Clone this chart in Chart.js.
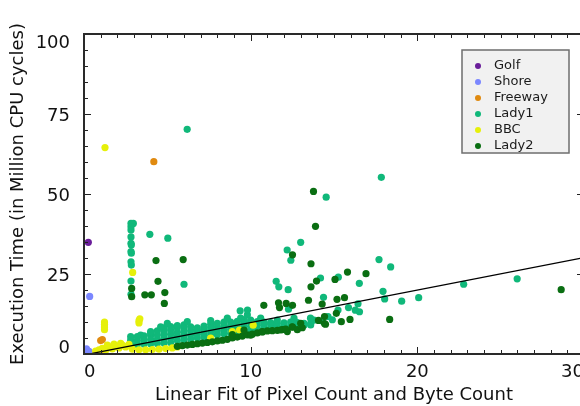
<!DOCTYPE html>
<html>
<head>
<meta charset="utf-8">
<script src="https://cdn.jsdelivr.net/npm/chart.js@4/dist/chart.umd.min.js"></script>
<style>
  html, body { margin: 0; padding: 0; background: #fff; overflow: hidden; }
  #wrap { width: 580px; height: 406px; overflow: hidden; }
</style>
</head>
<body>
<div id="wrap"><canvas id="chart" width="600" height="406"></canvas></div>
<script>
/* ===== data ===== */
const seriesNames = ['Golf', 'Shore', 'Freeway', 'Lady1', 'BBC', 'Lady2'];
const seriesColors = ['#6a1e9a', '#7b87ff', '#e08a10', '#10b87a', '#e6f00a', '#0a6e12'];

const golf = [[0.26, 34.9], [0.05, 0.4], [0.15, 0.9], [0.3, 0.2]];

const shore = [[0.34, 18.0], [0.15, 1.6], [0.3, 0.8], [0.1, 0.3]];

const freeway = [[1.0, 4.2], [1.1, 4.5], [1.0, 0.9], [1.2, 0.6], [4.19, 60.1]];

const lady1 = [
    // dense band
    [2.8, 3.0], [2.8, 4.3], [2.8, 5.4],
    [3.2, 3.0], [3.2, 4.2], [3.2, 5.4],
    [3.6, 3.1], [3.6, 4.4], [3.6, 5.7],
    [4.0, 3.2], [4.0, 4.5], [4.0, 5.8], [4.0, 6.6],
    [4.4, 3.3], [4.4, 4.6], [4.4, 5.9], [4.4, 7.2],
    [4.8, 3.4], [4.8, 4.7], [4.8, 6.0], [4.8, 7.3], [4.8, 8.2],
    [5.2, 3.6], [5.2, 4.9], [5.2, 6.2], [5.2, 7.5], [5.2, 8.6],
    [5.6, 4.2], [5.6, 5.5], [5.6, 6.8], [5.6, 8.1], [5.6, 8.9],
    [6.0, 4.5], [6.0, 5.8], [6.0, 7.1], [6.0, 8.4], [6.0, 9.1],
    [6.4, 4.7], [6.4, 6.0], [6.4, 7.3], [6.4, 8.5],
    [6.8, 5.0], [6.8, 6.2], [6.8, 7.4], [6.8, 8.2],
    [7.2, 5.3], [7.2, 6.5], [7.2, 7.7], [7.2, 8.7],
    [7.6, 5.8], [7.6, 7.0], [7.6, 8.2], [7.6, 9.3],
    [8.0, 6.0], [8.0, 7.2], [8.0, 8.4], [8.0, 9.6],
    [8.4, 6.3], [8.4, 7.5], [8.4, 8.7], [8.4, 10.0],
    [8.8, 6.5], [8.8, 7.7], [8.8, 8.9], [8.8, 10.0],
    [9.2, 6.8], [9.2, 8.0], [9.2, 9.2], [9.2, 10.2],
    [9.6, 7.2], [9.6, 8.4], [9.6, 9.6], [9.6, 10.6],
    [10.0, 7.5], [10.0, 8.7], [10.0, 9.9], [10.0, 10.6],
    [10.4, 7.8], [10.4, 9.0], [10.4, 10.1],
    [10.8, 8.0], [10.8, 9.2], [10.8, 10.0],
    [11.2, 8.2], [11.2, 9.3], [11.2, 9.8],
    [11.6, 8.4], [11.6, 9.5], [12.0, 8.6], [12.0, 9.7],
    [12.4, 8.8], [12.4, 10.0], [12.8, 8.9], [12.8, 9.8],
    [13.2, 9.0], [13.2, 9.6], [13.6, 9.1], [13.6, 9.5],
    // bumps on top of the band
    [3.4, 5.9], [4.0, 7.0], [4.6, 8.5], [5.0, 9.6], [6.2, 10.1], [7.6, 10.4],
    [8.6, 11.2], [9.4, 11.2], [9.8, 12.2], [10.6, 11.2], [11.6, 10.6],
    [12.6, 11.2], [13.8, 10.6],
    // column near x = 2.9
    [2.82, 40.8], [2.96, 40.8], [2.82, 39.8], [2.82, 38.75], [2.82, 36.6],
    [2.82, 34.6], [2.84, 34.1], [2.82, 32.0], [2.84, 31.5], [2.82, 28.8],
    [2.84, 27.8], [2.82, 22.8], [2.82, 18.65],
    // scattered
    [6.19, 70.2], [3.95, 37.4], [5.03, 36.2], [6.0, 21.8],
    [17.84, 55.2], [14.53, 49.0], [13.0, 34.9], [12.19, 32.5], [12.41, 29.3],
    [17.7, 29.5], [18.4, 27.2], [15.26, 24.0], [14.19, 23.75], [16.52, 22.1],
    [11.53, 22.7], [11.69, 21.0], [12.25, 20.1], [17.94, 19.6], [14.37, 17.7],
    [18.04, 17.2], [20.08, 17.6], [19.06, 16.5], [16.44, 15.7], [15.87, 14.5],
    [16.28, 13.7], [16.53, 13.2], [15.24, 13.75], [14.9, 10.7], [14.29, 10.3],
    [13.59, 11.2], [14.64, 11.7], [12.27, 14.0], [9.81, 13.75], [9.37, 13.5],
    [22.78, 21.8], [25.99, 23.5]
];

const bbc = [
    [0.7, 0.9], [0.9, 1.3], [1.1, 1.8], [1.3, 1.2], [1.5, 2.2], [1.7, 1.6],
    [1.9, 2.5], [2.1, 1.9], [2.3, 2.8], [2.5, 2.2], [2.7, 3.0], [1.4, 2.8],
    [1.8, 3.1], [2.2, 3.3], [2.9, 1.5], [3.3, 1.3], [3.7, 1.3], [4.1, 1.4],
    [4.5, 1.5], [4.9, 1.7], [5.3, 1.9], [5.6, 2.2],
    [1.23, 7.6], [1.23, 8.4], [1.23, 9.2], [1.23, 10.0],
    [3.3, 9.7], [3.3, 10.4], [3.35, 11.0],
    [2.92, 25.5], [1.26, 64.5],
    [7.6, 5.0], [8.9, 7.0], [9.33, 7.5], [10.15, 9.0]
];

const lady2 = [
    // lower band
    [5.6, 2.4], [5.9, 2.6], [6.2, 2.8], [6.5, 3.0], [6.8, 3.2], [7.1, 3.4],
    [7.4, 3.6], [7.7, 3.8], [8.0, 4.1], [8.3, 4.3], [8.6, 4.6], [8.9, 5.0],
    [9.2, 5.3], [9.5, 5.6], [9.8, 6.0], [10.1, 6.2], [10.4, 6.6], [10.7, 6.9],
    [11.0, 7.2], [11.3, 7.3], [11.6, 7.4], [11.9, 7.6], [12.2, 7.0],
    [12.5, 8.4], [13.0, 9.6], [8.9, 6.1], [10.0, 5.9], [10.7, 7.0], [9.6, 7.5],
    [11.8, 7.5], [12.5, 8.5], [12.1, 7.8], [12.8, 7.6], [13.1, 8.2],
    // scattered
    [2.86, 20.5], [2.86, 17.9], [3.65, 18.5], [4.04, 18.5], [4.85, 19.2],
    [4.82, 15.8], [4.32, 29.2], [4.44, 22.7], [5.95, 29.5],
    [13.77, 50.8], [13.89, 39.9], [12.51, 31.0], [13.62, 28.2], [15.81, 25.6],
    [16.92, 25.1], [15.06, 23.3], [13.95, 22.8], [13.62, 21.0], [15.18, 17.1],
    [15.63, 17.6], [13.47, 16.8], [14.29, 15.6], [15.14, 12.7], [18.34, 10.8],
    [15.96, 10.8], [15.44, 10.1], [14.43, 9.5], [14.07, 10.5], [14.43, 11.7],
    [10.79, 15.2], [11.67, 16.0], [12.13, 15.8], [11.73, 14.5], [12.51, 15.2],
    [14.49, 9.3], [28.63, 20.1]
];

const seriesData = [golf, shore, freeway, lady1, bbc, lady2];

// linear fit line
const fitLine = [[0.5, 0.2], [30, 30.1]];

// axes
const xRange = [0, 30];
const yRange = [0, 100];
const xTicks = [0, 10, 20, 30];
const yTicks = [0, 25, 50, 75, 100];
const xMinorStep = 1;
const yMinorStep = 5;

const xTitle = 'Linear Fit of Pixel Count and Byte Count';
const yTitle = 'Execution Time (in Million CPU cycles)';

/* ===== plugins ===== */
// inward tick marks + frame (matplotlib style)
const frameTicks = {
    id: 'frameTicks',
    afterDraw(chart) {
        const { ctx, chartArea: a, scales: { x, y } } = chart;
        ctx.save();
        ctx.strokeStyle = '#222';
        ctx.lineWidth = 1;
        ctx.beginPath();
        for (let v = xRange[0]; v <= xRange[1]; v += xMinorStep) {
            const px = Math.round(x.getPixelForValue(v)) + 0.5;
            const len = xTicks.includes(v) ? 7 : 4;
            ctx.moveTo(px, a.bottom); ctx.lineTo(px, a.bottom - len);
            ctx.moveTo(px, a.top); ctx.lineTo(px, a.top + len);
        }
        for (let v = yRange[0]; v <= yRange[1]; v += yMinorStep) {
            const py = Math.round(y.getPixelForValue(v)) + 0.5;
            const len = yTicks.includes(v) ? 7 : 4;
            ctx.moveTo(a.left, py); ctx.lineTo(a.left + len, py);
            ctx.moveTo(a.right, py); ctx.lineTo(a.right - len, py);
        }
        ctx.stroke();

        ctx.strokeStyle = '#2a2a2a';
        ctx.lineWidth = 2;
        ctx.strokeRect(a.left, a.top, a.right - a.left, a.bottom - a.top);
        ctx.restore();
    }
};

// legend box inside the plot
const boxLegend = {
    id: 'boxLegend',
    afterDraw(chart) {
        const ctx = chart.ctx;
        const bx = 462, by = 50, bw = 107, bh = 103;
        ctx.save();
        ctx.fillStyle = '#f1f1f1';
        ctx.fillRect(bx, by, bw, bh);
        ctx.strokeStyle = '#6e6e6e';
        ctx.lineWidth = 1.5;
        ctx.strokeRect(bx, by, bw, bh);

        ctx.font = '13px "DejaVu Sans"';
        ctx.textBaseline = 'middle';
        seriesNames.forEach((name, i) => {
            const ry = 66 + i * 16;
            ctx.fillStyle = seriesColors[i];
            ctx.beginPath();
            ctx.arc(478, ry, 3, 0, Math.PI * 2);
            ctx.fill();
            ctx.fillStyle = '#1a1a1a';
            ctx.fillText(name, 494, ry);
        });
        ctx.restore();
    }
};

/* ===== chart ===== */
Chart.defaults.font.family = '"DejaVu Sans", sans-serif';
Chart.defaults.font.size = 18;
Chart.defaults.color = '#111';

const datasets = seriesData.map((pts, i) => ({
    label: seriesNames[i],
    data: pts.map(p => ({ x: p[0], y: p[1] })),
    backgroundColor: seriesColors[i],
    borderWidth: 0,
    pointRadius: 3.6,
    order: 10 - i
}));

datasets.push({
    label: 'fit',
    data: fitLine.map(p => ({ x: p[0], y: p[1] })),
    showLine: true,
    borderColor: '#000',
    borderWidth: 1.3,
    pointRadius: 0,
    order: 0
});

new Chart(document.getElementById('chart'), {
    type: 'scatter',
    data: { datasets },
    options: {
        responsive: false,
        animation: false,
        events: [],
        layout: { padding: { top: 34, left: 0, right: 16, bottom: 0 } },
        plugins: {
            legend: { display: false },
            tooltip: { enabled: false }
        },
        scales: {
            x: {
                min: xRange[0],
                max: xRange[1],
                grid: { display: false },
                border: { display: false },
                ticks: { align: 'inner', padding: 0, maxRotation: 0 },
                afterBuildTicks: s => { s.ticks = xTicks.map(v => ({ value: v })); },
                afterFit: s => { s.height = 52; s.paddingLeft = 0; s.paddingRight = 0; },
                title: { display: true, text: xTitle, padding: { top: 0, bottom: 0 } }
            },
            y: {
                min: yRange[0],
                max: yRange[1],
                grid: { display: false },
                border: { display: false },
                ticks: {
                    padding: 6,
                    labelOffset: 2,
                    font: { lineHeight: 0.8 },
                    // first/last labels nudged inward like the original
                    callback: v => (v === yRange[0] ? [String(v), ''] : v === yRange[1] ? ['', String(v)] : String(v))
                },
                afterBuildTicks: s => { s.ticks = yTicks.map(v => ({ value: v })); },
                afterFit: s => { s.width = 84; s.paddingTop = 0; s.paddingBottom = 0; },
                title: { display: true, text: yTitle, padding: { top: 8, bottom: 0 } }
            }
        }
    },
    plugins: [frameTicks, boxLegend]
});
</script>
</body>
</html>
